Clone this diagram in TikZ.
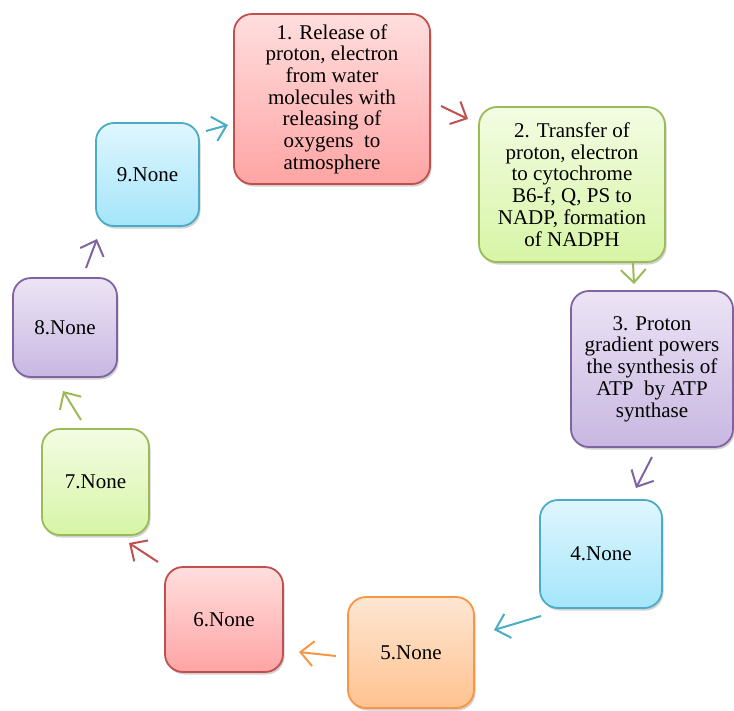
\documentclass[tikz,border=0pt]{standalone}
\usepackage{fontspec}
\setmainfont{Liberation Serif}
\usetikzlibrary{arrows.meta,shadows}
\definecolor{redB}{HTML}{C0504D}\definecolor{redT}{HTML}{FFDEDE}\definecolor{redL}{HTML}{FFA4A4}
\definecolor{grnB}{HTML}{9BBB59}\definecolor{grnT}{HTML}{F3FCE3}\definecolor{grnL}{HTML}{D7F5A6}
\definecolor{purB}{HTML}{8064A2}\definecolor{purT}{HTML}{ECE4F5}\definecolor{purL}{HTML}{C8B7E1}
\definecolor{cyaB}{HTML}{4BACC6}\definecolor{cyaT}{HTML}{DFF6FE}\definecolor{cyaL}{HTML}{A5E5FA}
\definecolor{orgB}{HTML}{F79646}\definecolor{orgT}{HTML}{FEE6D2}\definecolor{orgL}{HTML}{FFC290}
\tikzset{
  box/.style={rounded corners=18pt, line width=1.8pt, align=center, inner sep=0pt,
    font=\fontsize{21}{21.7}\selectfont,
    drop shadow={shadow xshift=1.5pt,shadow yshift=-2.5pt,opacity=0.3,fill=black!60}},
  redbox/.style={box, draw=redB, top color=redT, bottom color=redL},
  grnbox/.style={box, draw=grnB, top color=grnT, bottom color=grnL},
  purbox/.style={box, draw=purB, top color=purT, bottom color=purL},
  cyabox/.style={box, draw=cyaB, top color=cyaT, bottom color=cyaL},
  orgbox/.style={box, draw=orgB, top color=orgT, bottom color=orgL},
  conn/.style={line width=2pt, -{Straight Barb[length=13pt,width=25pt,line width=2pt]}},
}
\begin{document}
\begin{tikzpicture}[x=1pt,y=-1pt]
\useasboundingbox (0,0) rectangle (734,710);
\node[redbox, minimum width=196pt, minimum height=170pt] (n1) at (332,99)
  {1. Release of\\proton, electron\\from water\\molecules with\\releasing of\\oxygens\ \ to\\atmosphere};
\node[grnbox, minimum width=186pt, minimum height=155pt] (n2) at (572,184.5)
  {2. Transfer of\\proton, electron\\to cytochrome\\B6-f, Q, PS to\\NADP, formation\\of NADPH};
\node[purbox, minimum width=162pt, minimum height=156pt] (n3) at (652,369)
  {3. Proton\\gradient powers\\the synthesis of\\ATP\ \ by ATP\\synthase};
\node[cyabox, minimum width=122pt, minimum height=108pt] (n4) at (601,554) {4.None};
\node[orgbox, minimum width=126pt, minimum height=111pt] (n5) at (411,652.5) {5.None};
\node[redbox, minimum width=118pt, minimum height=105pt] (n6) at (224,619.5) {6.None};
\node[grnbox, minimum width=107pt, minimum height=106pt] (n7) at (95.5,482) {7.None};
\node[purbox, minimum width=104pt, minimum height=99pt] (n8) at (65,327.5) {8.None};
\node[cyabox, minimum width=103pt, minimum height=103pt] (n9) at (147.5,174.5) {9.None};
% arrow end points
\coordinate (a91) at (206,131); \coordinate (b91) at (228,125);
\coordinate (a12) at (441,106); \coordinate (b12) at (468,119);
\coordinate (a23) at (633,263); \coordinate (b23) at (634,284);
\coordinate (a34) at (652,457); \coordinate (b34) at (636,488);
\coordinate (a45) at (541,616); \coordinate (b45) at (494,630);
\coordinate (a56) at (336,656); \coordinate (b56) at (299,652);
\coordinate (a67) at (158,562); \coordinate (b67) at (129,543);
\coordinate (a78) at (81,420);  \coordinate (b78) at (63,391);
\coordinate (a89) at (86,268);  \coordinate (b89) at (97,239);
\draw[conn, cyaB] (a91) -- (b91);
\draw[conn, redB] (a12) -- (b12);
\draw[conn, grnB] (a23) -- (b23);
\draw[conn, purB] (a34) -- (b34);
\draw[conn, cyaB] (a45) -- (b45);
\draw[conn, orgB] (a56) -- (b56);
\draw[conn, redB] (a67) -- (b67);
\draw[conn, grnB] (a78) -- (b78);
\draw[conn, purB] (a89) -- (b89);
\end{tikzpicture}
\end{document}
